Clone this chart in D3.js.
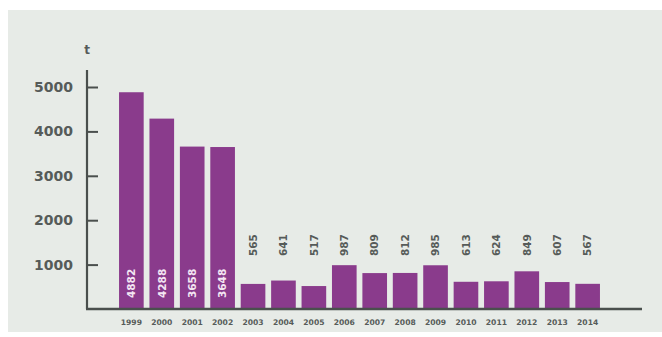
<!DOCTYPE html>
<html>
<head>
<meta charset="utf-8">
<script src="https://cdn.jsdelivr.net/npm/d3@7"></script>
<style>
  html, body { margin: 0; padding: 0; background: #ffffff; }
  svg { display: block; }
  text { font-family: "DejaVu Sans", "Liberation Sans", sans-serif; }
</style>
</head>
<body>
<svg id="chart" width="662" height="337"></svg>
<script>
// Annual tonnage, 1999–2014
const years  = ["1999","2000","2001","2002","2003","2004","2005","2006",
                "2007","2008","2009","2010","2011","2012","2013","2014"];
const values = [4882, 4288, 3658, 3648, 565, 641, 517, 987,
                809, 812, 985, 613, 624, 849, 607, 567];
const yTicks = [1000, 2000, 3000, 4000, 5000];
const unitLabel = "t";
// the first bars are tall enough to carry their value inside
const insideCount = 4;

const svg = d3.select("#chart");
const barColor = "#8a3b8c";
const inkColor = "#565b59";

// panel background
svg.append("rect")
  .attr("x", 8).attr("y", 10)
  .attr("width", 654).attr("height", 322)
  .attr("fill", "#e7ebe7");

const x = d3.scaleBand()
  .domain(years)
  .range([116, 603])
  .paddingInner(0.19)
  .paddingOuter(0.1);

const y = d3.scaleLinear()
  .domain([0, 5000])
  .range([309, 87]);

// bars
svg.append("g").selectAll("rect")
  .data(years)
  .join("rect")
  .attr("x", d => x(d))
  .attr("y", (d, i) => y(values[i]))
  .attr("width", x.bandwidth())
  .attr("height", (d, i) => y(0) - y(values[i]))
  .attr("fill", barColor);

// y axis: ticks pointing into the plot
const yAxis = d3.axisRight(y)
  .tickValues(yTicks)
  .tickSize(11)
  .tickFormat(d3.format("d"));
const gy = svg.append("g")
  .attr("transform", "translate(87,0)")
  .call(yAxis);
gy.select(".domain").remove();
gy.selectAll(".tick line").attr("stroke", "#4a4f4d").attr("stroke-width", 2);
gy.selectAll(".tick text")
  .attr("x", -14)
  .attr("text-anchor", "end")
  .attr("fill", inkColor)
  .attr("font-size", 14)
  .attr("font-weight", "bold");

// vertical axis line, running above the top tick
svg.append("line")
  .attr("x1", 87).attr("x2", 87)
  .attr("y1", 70).attr("y2", y(0))
  .attr("stroke", "#4a4f4d").attr("stroke-width", 2.2);

// unit
svg.append("text")
  .attr("x", 87).attr("y", 54)
  .attr("text-anchor", "middle")
  .attr("fill", inkColor)
  .attr("font-size", 12)
  .attr("font-weight", "bold")
  .text(unitLabel);

// x axis
const xAxis = d3.axisBottom(x).tickSize(0).tickPadding(11);
const gx = svg.append("g")
  .attr("transform", `translate(0,${y(0)})`)
  .call(xAxis);
gx.select(".domain").remove();
gx.selectAll(".tick text")
  .attr("fill", inkColor)
  .attr("font-size", 7.6)
  .attr("font-weight", "bold");

svg.append("line")
  .attr("x1", 86).attr("x2", 642)
  .attr("y1", y(0)).attr("y2", y(0))
  .attr("stroke", "#4a4f4d").attr("stroke-width", 2.4);

// value labels, rotated
svg.append("g").selectAll("text")
  .data(years)
  .join("text")
  .attr("transform", (d, i) => {
    const cx = x(d) + x.bandwidth() / 2;
    const cy = i < insideCount ? 298 : 256;
    return `translate(${cx},${cy}) rotate(-90)`;
  })
  .attr("dy", "0.36em")
  .attr("text-anchor", "start")
  .attr("fill", (d, i) => i < insideCount ? "#f3e6f3" : inkColor)
  .attr("font-size", 10.5)
  .attr("font-weight", "bold")
  .text((d, i) => values[i]);
</script>
</body>
</html>
